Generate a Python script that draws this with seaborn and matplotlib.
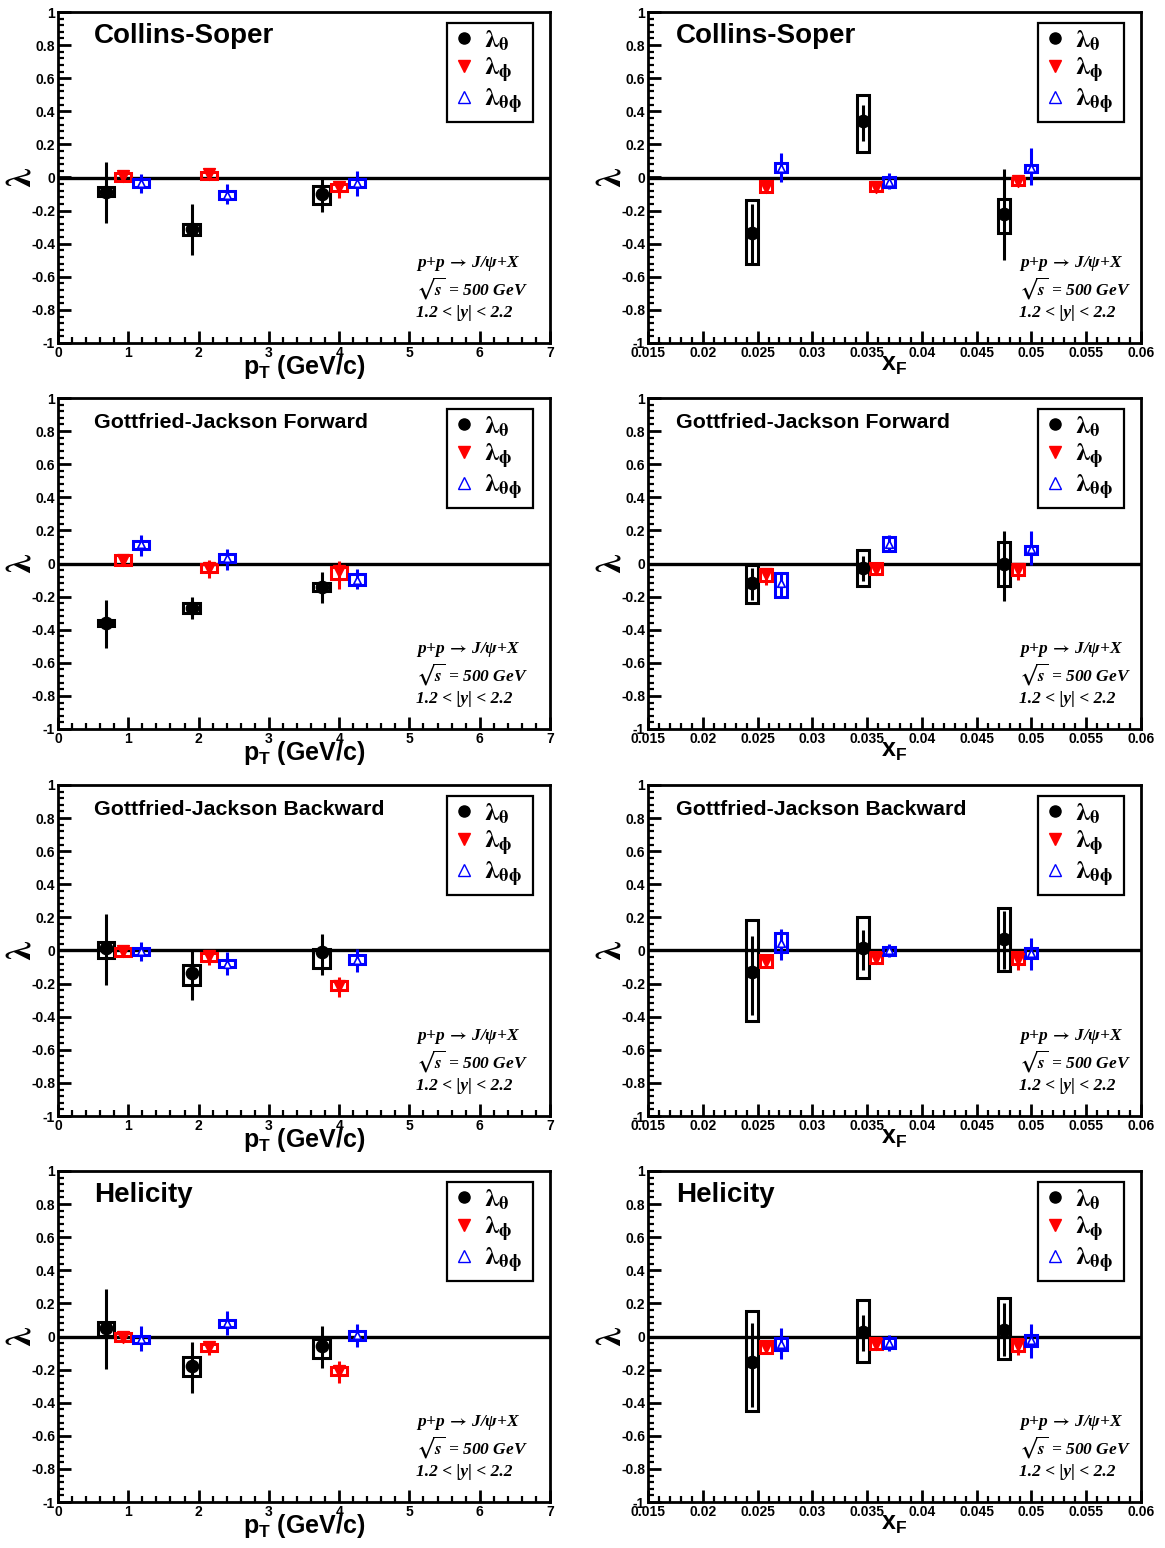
import numpy as np
import pandas as pd
import matplotlib
matplotlib.use("Agg")
import matplotlib.pyplot as plt
import seaborn as sns
from matplotlib.patches import Rectangle
from matplotlib.lines import Line2D
from matplotlib.ticker import MultipleLocator, FuncFormatter
from matplotlib.font_manager import FontProperties

# ---------------- data ----------------
# panel order: CS-pT, CS-xF, GJF-pT, GJF-xF, GJB-pT, GJB-xF, HX-pT, HX-xF
panel_titles = ["Collins-Soper", "Collins-Soper",
                "Gottfried-Jackson Forward", "Gottfried-Jackson Forward",
                "Gottfried-Jackson Backward", "Gottfried-Jackson Backward",
                "Helicity", "Helicity"]

pt_theta = [0.68, 1.90, 3.75]
pt_phi = [0.93, 2.15, 4.00]
pt_thetaphi = [1.18, 2.40, 4.25]
xf_theta = [0.0245, 0.0346, 0.0475]
xf_phi = [0.0258, 0.0358, 0.0488]
xf_thetaphi = [0.0271, 0.0370, 0.0500]

theta_val = [[-0.085, -0.31, -0.10], [-0.333, 0.343, -0.222],
             [-0.358, -0.268, -0.141], [-0.115, -0.026, 0.0],
             [0.014, -0.137, -0.01], [-0.127, 0.014, 0.07],
             [0.05, -0.18, -0.06], [-0.157, 0.03, 0.04]]
theta_stat_lo = [[-0.274, -0.47, -0.21], [-0.53, 0.22, -0.50],
                 [-0.51, -0.338, -0.24], [-0.22, -0.107, -0.228],
                 [-0.21, -0.298, -0.147], [-0.39, -0.117, -0.11],
                 [-0.197, -0.342, -0.19], [-0.423, -0.09, -0.12]]
theta_stat_hi = [[0.096, -0.16, 0.0], [-0.16, 0.44, 0.05],
                 [-0.22, -0.203, -0.05], [-0.03, 0.044, 0.195],
                 [0.22, -0.006, 0.099], [0.085, 0.125, 0.24],
                 [0.286, -0.036, 0.065], [0.08, 0.13, 0.2]]
theta_sys_lo = [[-0.11, -0.35, -0.16], [-0.52, 0.156, -0.333],
                [-0.38, -0.298, -0.167], [-0.238, -0.137, -0.137],
                [-0.046, -0.207, -0.106], [-0.423, -0.167, -0.123],
                [0.004, -0.24, -0.13], [-0.453, -0.157, -0.135]]
theta_sys_hi = [[-0.06, -0.28, -0.054], [-0.137, 0.50, -0.127],
                [-0.34, -0.238, -0.117], [-0.01, 0.079, 0.131],
                [0.05, -0.086, 0.01], [0.185, 0.2, 0.256],
                [0.09, -0.125, -0.016], [0.157, 0.222, 0.232]]

phi_val = [[0.01, 0.02, -0.06], [-0.06, -0.055, -0.02],
           [0.02, -0.026, -0.046], [-0.066, -0.032, -0.036],
           [-0.006, -0.036, -0.213], [-0.066, -0.046, -0.052],
           [-0.003, -0.064, -0.21], [-0.064, -0.044, -0.05]]
phi_stat_lo = [[-0.015, -0.01, -0.126], [-0.09, -0.08, -0.046],
               [-0.005, -0.087, -0.153], [-0.127, -0.066, -0.097],
               [-0.03, -0.09, -0.278], [-0.1, -0.076, -0.117],
               [-0.03, -0.11, -0.278], [-0.097, -0.076, -0.11]]
phi_stat_hi = [[0.03, 0.035, -0.02], [-0.03, -0.03, 0.0],
               [0.04, 0.024, 0.018], [-0.026, 0.0, 0.0],
               [0.015, -0.006, -0.16], [-0.03, -0.01, -0.012],
               [0.024, -0.03, -0.15], [-0.026, -0.01, -0.016]]
phi_sys_lo = [[-0.02, -0.01, -0.08], [-0.09, -0.08, -0.046],
              [-0.01, -0.05, -0.093], [-0.107, -0.066, -0.07],
              [-0.032, -0.066, -0.237], [-0.1, -0.076, -0.08],
              [-0.03, -0.086, -0.23], [-0.097, -0.076, -0.09]]
phi_sys_hi = [[0.03, 0.034, -0.04], [-0.02, -0.026, 0.0],
              [0.05, 0.0, -0.022], [-0.036, 0.004, 0.0],
              [0.018, -0.016, -0.187], [-0.03, -0.01, -0.012],
              [0.024, -0.044, -0.185], [-0.026, -0.01, -0.016]]

thetaphi_val = [[-0.034, -0.106, -0.034], [0.06, -0.026, 0.06],
                [0.115, 0.034, -0.097], [-0.117, 0.119, 0.085],
                [-0.006, -0.08, -0.056], [0.045, 0.004, -0.016],
                [-0.014, 0.081, 0.01], [-0.044, -0.04, -0.024]]
thetaphi_stat_lo = [[-0.094, -0.16, -0.11], [-0.026, -0.067, -0.044],
                    [0.048, -0.04, -0.157], [-0.2, 0.07, -0.012],
                    [-0.066, -0.147, -0.13], [-0.056, -0.04, -0.117],
                    [-0.086, 0.01, -0.064], [-0.137, -0.09, -0.128]]
thetaphi_stat_hi = [[0.02, -0.04, 0.04], [0.15, 0.03, 0.178],
                    [0.175, 0.089, -0.036], [-0.056, 0.17, 0.195],
                    [0.054, -0.012, 0.01], [0.13, 0.04, 0.075],
                    [0.065, 0.157, 0.077], [0.05, 0.01, 0.077]]
thetaphi_sys_lo = [[-0.06, -0.13, -0.06], [0.034, -0.055, 0.036],
                   [0.085, 0.01, -0.127], [-0.2, 0.074, 0.06],
                   [-0.03, -0.1, -0.08], [-0.012, -0.026, -0.046],
                   [-0.04, 0.057, -0.02], [-0.08, -0.07, -0.06]]
thetaphi_sys_hi = [[-0.01, -0.08, -0.01], [0.085, 0.0, 0.077],
                   [0.135, 0.059, -0.066], [-0.056, 0.161, 0.105],
                   [0.016, -0.06, -0.03], [0.105, 0.024, 0.014],
                   [0.006, 0.1, 0.034], [-0.01, -0.01, 0.01]]

legend_labels = [r"$\mathrm{λ}_{\mathrm{θ}}$", r"$\mathrm{λ}_{\mathrm{ϕ}}$",
                 r"$\mathrm{λ}_{\mathrm{θϕ}}$"]
annotation_lines = [r"p+p$\,\rightarrow\,$J/ψ+X", r"$\sqrt{s}$ = 500 GeV", u"1.2 < |y| < 2.2"]

# ---------------- style ----------------
sns.set_theme(style="ticks")
plt.rcParams.update({
    "font.family": ["Liberation Sans", "DejaVu Sans"],
    "font.weight": "bold",
    "text.color": "black",
    "axes.labelcolor": "black",
    "mathtext.fontset": "custom",
    "mathtext.rm": "Liberation Sans:bold",
    "mathtext.bf": "Liberation Sans:bold",
    "mathtext.it": "Liberation Sans:bold:italic",
    "axes.linewidth": 2.0,
    "axes.edgecolor": "black",
    "xtick.color": "black",
    "ytick.color": "black",
})

RED = "#ff0000"
BLUE = "#0000ff"
BLACK = "#000000"

series = [
    dict(name="theta", color=BLACK, marker="o", fc=BLACK, val=theta_val,
         slo=theta_stat_lo, shi=theta_stat_hi, ylo=theta_sys_lo, yhi=theta_sys_hi,
         xpt=pt_theta, xxf=xf_theta, size=75),
    dict(name="phi", color=RED, marker="v", fc=RED, val=phi_val,
         slo=phi_stat_lo, shi=phi_stat_hi, ylo=phi_sys_lo, yhi=phi_sys_hi,
         xpt=pt_phi, xxf=xf_phi, size=70),
    dict(name="thetaphi", color=BLUE, marker="^", fc="white", val=thetaphi_val,
         slo=thetaphi_stat_lo, shi=thetaphi_stat_hi, ylo=thetaphi_sys_lo, yhi=thetaphi_sys_hi,
         xpt=pt_thetaphi, xxf=xf_thetaphi, size=30),
]

W, H = 1165, 1548
fig = plt.figure(figsize=(W / 100, H / 100), dpi=100)
col_x0 = [58 / W, 648 / W]
col_w = [492 / W, 493 / W]
row_top_px = [12, 398, 785, 1171]
ax_h = 331 / H

legend_fp = FontProperties(size=19, weight="normal", math_fontfamily="stix")
ylab_fp = FontProperties(size=26, weight="normal", math_fontfamily="stix")
ann_fp = FontProperties(family=["Liberation Serif", "DejaVu Serif"], weight="bold",
                        style="italic", size=12.5, math_fontfamily="stix")

def fmt_num(v, _pos=None):
    r = round(v, 4)
    if abs(r) < 1e-9:
        return "0"
    return f"{r:g}"

for p in range(8):
    row, col = divmod(p, 2)
    bottom = 1 - (row_top_px[row] + 331) / H
    ax = fig.add_axes([col_x0[col], bottom, col_w[col], ax_h])

    if col == 0:
        xlim = (0, 7)
        half_w = 0.115
    else:
        xlim = (0.015, 0.06)
        half_w = 0.00055

    ax.axhline(0, color="black", lw=2.4, zorder=2)

    for s in series:
        xs = s["xpt"] if col == 0 else s["xxf"]
        df = pd.DataFrame({"x": xs, "lam": s["val"][p],
                           "stat_lo": s["slo"][p], "stat_hi": s["shi"][p],
                           "sys_lo": s["ylo"][p], "sys_hi": s["yhi"][p]})
        # statistical error bars
        ax.vlines(df["x"], df["stat_lo"], df["stat_hi"], color=s["color"], lw=2.2, zorder=3)
        # systematic boxes
        for _, r in df.iterrows():
            ax.add_patch(Rectangle((r["x"] - half_w, r["sys_lo"]), 2 * half_w,
                                   r["sys_hi"] - r["sys_lo"], fill=False,
                                   edgecolor=s["color"], lw=2.2, zorder=4))
        sns.scatterplot(data=df, x="x", y="lam", ax=ax, marker=s["marker"],
                        s=s["size"], facecolor=s["fc"], edgecolor=s["color"],
                        linewidth=1.2, legend=False, zorder=5)

    ax.set_xlim(*xlim)
    ax.set_ylim(-1, 1)

    ax.yaxis.set_major_locator(MultipleLocator(0.2))
    ax.yaxis.set_minor_locator(MultipleLocator(0.04))
    if col == 0:
        ax.xaxis.set_major_locator(MultipleLocator(1))
        ax.xaxis.set_minor_locator(MultipleLocator(0.2))
    else:
        ax.xaxis.set_major_locator(MultipleLocator(0.005))
        ax.xaxis.set_minor_locator(MultipleLocator(0.001))
    ax.xaxis.set_major_formatter(FuncFormatter(fmt_num))
    ax.yaxis.set_major_formatter(FuncFormatter(fmt_num))

    ax.tick_params(axis="both", which="major", direction="in", length=9, width=2,
                   labelsize=10, pad=2, top=False, right=False)
    ax.tick_params(axis="both", which="minor", direction="in", length=4.5, width=1.6,
                   top=False, right=False)
    for lbl in ax.get_xticklabels() + ax.get_yticklabels():
        lbl.set_fontweight("bold")

    for sp in ax.spines.values():
        sp.set_visible(True)
        sp.set_linewidth(2.0)

    if col == 0:
        ax.set_xlabel(r"p$_{\mathrm{T}}$ (GeV/c)", fontsize=18, fontweight="bold")
    else:
        ax.set_xlabel(r"x$_{\mathrm{F}}$", fontsize=18, fontweight="bold")
    ax.xaxis.set_label_coords(0.5, -0.03)
    ax.set_ylabel(r"$\mathrm{λ}$", fontproperties=ylab_fp)
    ax.yaxis.set_label_coords(-0.04, 0.5)

    title_x = 0.073 if col == 0 else 0.057
    tsize = 20 if row in (0, 3) else 15.4
    ax.text(title_x, 0.927, panel_titles[p], transform=ax.transAxes,
            fontsize=tsize, fontweight="bold", ha="left", va="center", color="black")

    ann_x = 0.728 if col == 0 else 0.753
    for yy, line in zip([0.239, 0.166, 0.091], annotation_lines):
        ax.text(ann_x, yy, line, transform=ax.transAxes, fontproperties=ann_fp,
                ha="left", va="center", color="black")

    handles = [
        Line2D([], [], linestyle="none", marker="o", markersize=8,
               markerfacecolor=BLACK, markeredgecolor=BLACK),
        Line2D([], [], linestyle="none", marker="v", markersize=8,
               markerfacecolor=RED, markeredgecolor=RED),
        Line2D([], [], linestyle="none", marker="^", markersize=8.5,
               markerfacecolor="white", markeredgecolor=BLUE, markeredgewidth=1.0),
    ]
    leg = ax.legend(handles, legend_labels, loc="upper left",
                    bbox_to_anchor=(0.791, 0.674, 0.174, 0.293), mode="expand",
                    prop=legend_fp, frameon=True, fancybox=False, framealpha=1,
                    edgecolor="black", borderpad=0.2, labelspacing=0.1,
                    handlelength=0.9, handletextpad=0.3, borderaxespad=0)
    leg.get_frame().set_linewidth(1.6)

fig.savefig("out.png", dpi=100)
